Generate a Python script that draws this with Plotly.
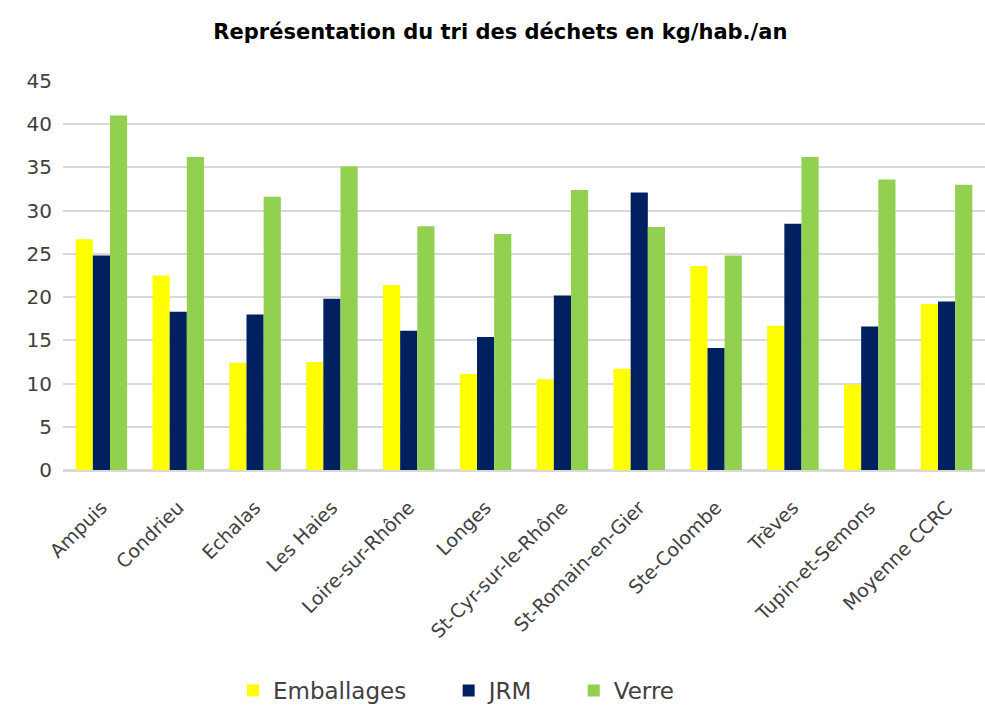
import plotly.graph_objects as go

communes = ["Ampuis", "Condrieu", "Echalas", "Les Haies", "Loire-sur-Rhône", "Longes",
            "St-Cyr-sur-le-Rhône", "St-Romain-en-Gier", "Ste-Colombe", "Trèves",
            "Tupin-et-Semons", "Moyenne CCRC"]
emballages = [26.7, 22.5, 12.4, 12.5, 21.4, 11.1, 10.5, 11.7, 23.6, 16.7, 9.9, 19.2]
jrm = [24.8, 18.3, 18.0, 19.8, 16.1, 15.4, 20.2, 32.1, 14.1, 28.5, 16.6, 19.5]
verre = [41.0, 36.2, 31.6, 35.1, 28.2, 27.3, 32.4, 28.1, 24.8, 36.2, 33.6, 33.0]

series = [("Emballages", emballages, "#FFFF00"),
          ("JRM", jrm, "#002060"),
          ("Verre", verre, "#92D050")]

FONT = "DejaVu Sans"

# one legend per series so each entry can be placed on its own
legend_ids = ["legend", "legend2", "legend3"]
legend_x = [0.2365, 0.4555, 0.5825]

fig = go.Figure()
for (name, vals, color), lid in zip(series, legend_ids):
    fig.add_trace(go.Bar(x=communes, y=vals, name=name, marker_color=color,
                         marker_line_width=0, legend=lid, showlegend=True))

legend_style = dict(orientation="h", xanchor="left", yanchor="middle",
                    xref="container", yref="container", y=0.022,
                    font=dict(family=FONT, size=23, color="#404040"),
                    itemwidth=30, bgcolor="rgba(0,0,0,0)")

fig.update_layout(
    width=985, height=706,
    showlegend=True,
    margin=dict(l=63, r=0, t=81, b=236),
    paper_bgcolor="white", plot_bgcolor="white",
    barmode="group", bargap=0.33, bargroupgap=0,
    font=dict(family=FONT, color="#404040", size=17),
    title=dict(text="<b>Représentation du tri des déchets en kg/hab./an</b>",
               x=0.508, xanchor="center", y=0.955, yanchor="middle",
               font=dict(family=FONT, size=21, color="#000000")),
    legend=dict(x=legend_x[0], **legend_style),
    legend2=dict(x=legend_x[1], **legend_style),
    legend3=dict(x=legend_x[2], **legend_style),
    xaxis=dict(tickangle=-45, tickfont=dict(family=FONT, size=19, color="#404040"),
               showline=True, linecolor="#d9d9d9", linewidth=2, ticks="",
               ticklabelstandoff=17),
    yaxis=dict(range=[0, 45], dtick=5, showgrid=True, gridcolor="#d9d9d9", gridwidth=2,
               zeroline=True, zerolinecolor="#d9d9d9", zerolinewidth=2,
               tickfont=dict(family=FONT, size=20, color="#404040"), ticks="",
               ticklabelstandoff=10),
)

fig.write_html("out.html")
